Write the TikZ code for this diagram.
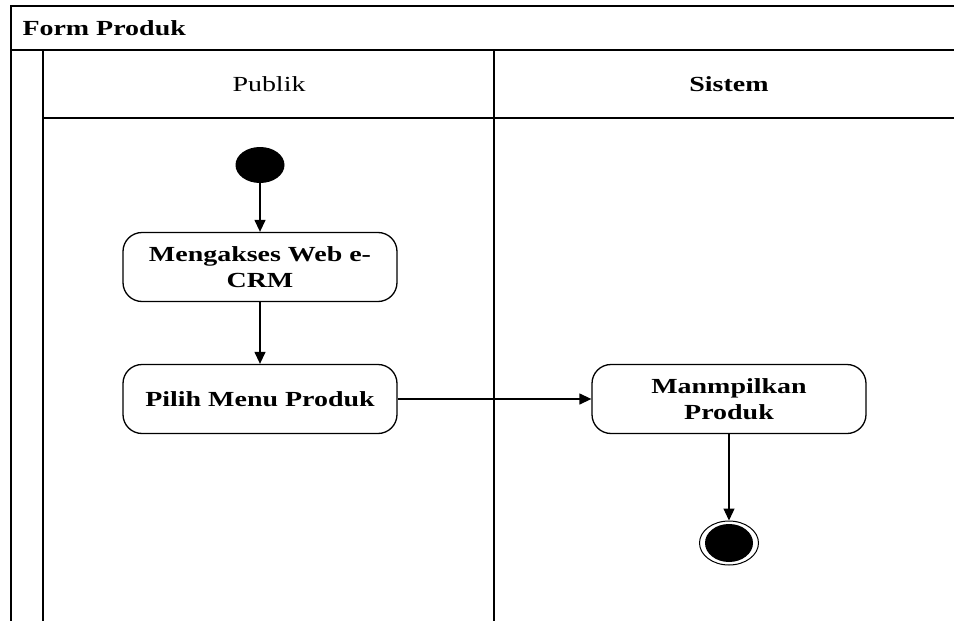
\documentclass[tikz,border=0pt]{standalone}
\usepackage{fontspec}
\setmainfont[FakeStretch=1.3]{Liberation Serif}
\usetikzlibrary{arrows.meta,positioning}
\usetikzlibrary{shapes.geometric}
\newcommand{\Dfont}{\fontsize{21.5}{25.5}\selectfont}
\tikzset{lane/.style={line width=1.6pt,draw=black}}
\tikzset{act/.style={rectangle,rounded corners=19pt,draw=black,line width=1.3pt,minimum width=274pt,minimum height=69pt,align=center,font=\Dfont\bfseries}}
\tikzset{flow/.style={-{Triangle[length=12pt,width=11pt]},line width=1.3pt}}
\begin{document}
\begin{tikzpicture}[x=1pt,y=-1pt,font=\Dfont]
\useasboundingbox (0,0) rectangle (954,621);
% \draw[help lines] (0,0) grid (954,621);
\draw[lane] (954,6) -- (11,6) -- (11,621);
\draw[lane] (11,50) -- (954,50);
\draw[lane] (43,50) -- (43,621);
\draw[lane] (43,118) -- (954,118);
\draw[lane] (494,50) -- (494,621);
\node (title) [anchor=base west,font=\Dfont\bfseries] at (19,35) {Form Produk};
\node (publik) at (269,84) {Publik};
\node (sistem) [font=\Dfont\bfseries] at (729,84) {Sistem};
%
\node (q0) [ellipse,fill=black,minimum width=49pt,minimum height=36pt,inner sep=0pt] at (260,165) {};
\node (q1) [act] at (260,267) {Mengakses Web e-\\CRM};
\node (q2) [act] at (260,399) {Pilih Menu Produk};
\node (q3) [act] at (729,399) {Manmpilkan\\Produk};
\node (q4) [ellipse,draw=black,line width=1pt,minimum width=59pt,minimum height=44pt,inner sep=0pt] at (729,543) {};
\node (q4in) [ellipse,fill=black,minimum width=48pt,minimum height=38pt,inner sep=0pt] at (729,543) {};
%
\path[flow] (q0) edge (q1);
\path[flow] (q1) edge (q2);
\path[flow] (q2) edge (q3);
\path[flow] (q3) edge (q4);
\end{tikzpicture}
\end{document}
